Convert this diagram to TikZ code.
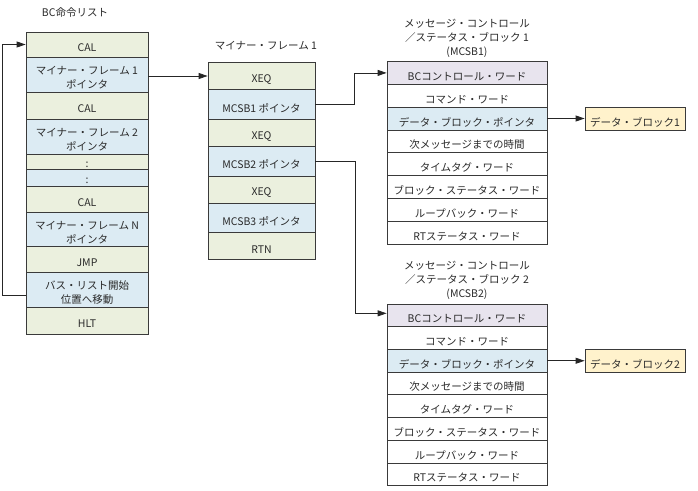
\documentclass[tikz,border=0pt]{standalone}
\usepackage{fontspec}
\setmainfont{Noto Sans CJK JP}
\usetikzlibrary{fit,arrows.meta}
\definecolor{cg}{HTML}{EBF0DE}
\definecolor{cb}{HTML}{DCEBF3}
\definecolor{cl}{HTML}{E8E4EE}
\definecolor{cy}{HTML}{FFF2CC}
\definecolor{bd}{HTML}{3A3A3A}
\definecolor{tx}{HTML}{2A2A2A}
\newcommand\myfont{\fontsize{10.5}{14}\selectfont}
\newcommand\cellbox[7]{\node[cellbase,#2,fit={(#3,#4)(#5,#6)},label={[ttl,yshift=-3.5pt]center:#7}] (#1) {};}
\tikzset{
  cellbase/.style={draw=bd, line width=0.8pt, inner sep=0pt},
  gr/.style={fill=cg}, bl/.style={fill=cb}, lv/.style={fill=cl}, wh/.style={fill=white}, yl/.style={fill=cy},
  ttl/.style={align=center, text=tx, font=\myfont, inner sep=0pt},
  conn/.style={draw=black!85, line width=0.8pt, -{Triangle[length=9pt,width=6pt]}}
}
\begin{document}
\begin{tikzpicture}[x=1pt,y=-1pt]
\useasboundingbox[fill=white] (0,0) rectangle (698,490);
% titles
\node[ttl] (t0) at (75,13) {BC命令リスト};
\node[ttl] (t1) at (266,46) {マイナー・フレーム 1};
\node[ttl] (t2) at (467,38.5) {メッセージ・コントロール\\／ステータス・ブロック 1\\(MCSB1)};
\node[ttl] (t3) at (467,280) {メッセージ・コントロール\\／ステータス・ブロック 2\\(MCSB2)};
% left column
\cellbox{L1}{gr}{26}{32}{148}{57}{CAL}
\cellbox{L2}{bl}{26}{57}{148}{92}{マイナー・フレーム 1\\ポインタ}
\cellbox{L3}{gr}{26}{92}{148}{119}{CAL}
\cellbox{L4}{bl}{26}{119}{148}{154}{マイナー・フレーム 2\\ポインタ}
\cellbox{L5}{gr}{26}{154}{148}{169}{:}
\cellbox{L6}{bl}{26}{169}{148}{186}{:}
\cellbox{L7}{gr}{26}{186}{148}{212}{CAL}
\cellbox{L8}{bl}{26}{212}{148}{246}{マイナー・フレーム N\\ポインタ}
\cellbox{L9}{gr}{26}{246}{148}{272}{JMP}
\cellbox{L10}{bl}{26}{272}{148}{307}{バス・リスト開始\\位置へ移動}
\cellbox{L11}{gr}{26}{307}{148}{334}{HLT}
% middle column
\cellbox{M1}{gr}{208}{62.5}{315}{89.5}{XEQ}
\cellbox{M2}{bl}{208}{89.5}{315}{119.5}{MCSB1 ポインタ}
\cellbox{M3}{gr}{208}{119.5}{315}{146}{XEQ}
\cellbox{M4}{bl}{208}{146}{315}{176}{MCSB2 ポインタ}
\cellbox{M5}{gr}{208}{176}{315}{203}{XEQ}
\cellbox{M6}{bl}{208}{203}{315}{232}{MCSB3 ポインタ}
\cellbox{M7}{gr}{208}{232}{315}{259.5}{RTN}
% right top
\cellbox{T1}{lv}{387}{61.5}{547}{84.3}{BCコントロール・ワード}
\cellbox{T2}{wh}{387}{84.3}{547}{107.1}{コマンド・ワード}
\cellbox{T3}{bl}{387}{107.1}{547}{129.9}{データ・ブロック・ポインタ}
\cellbox{T4}{wh}{387}{129.9}{547}{152.7}{次メッセージまでの時間}
\cellbox{T5}{wh}{387}{152.7}{547}{175.5}{タイムタグ・ワード}
\cellbox{T6}{wh}{387}{175.5}{547}{198.3}{ブロック・ステータス・ワード}
\cellbox{T7}{wh}{387}{198.3}{547}{221.1}{ループバック・ワード}
\cellbox{T8}{wh}{387}{221.1}{547}{243.9}{RTステータス・ワード}
% right bottom
\cellbox{B1}{lv}{387}{304}{547}{326.7}{BCコントロール・ワード}
\cellbox{B2}{wh}{387}{326.7}{547}{349.4}{コマンド・ワード}
\cellbox{B3}{bl}{387}{349.4}{547}{372.1}{データ・ブロック・ポインタ}
\cellbox{B4}{wh}{387}{372.1}{547}{394.8}{次メッセージまでの時間}
\cellbox{B5}{wh}{387}{394.8}{547}{417.5}{タイムタグ・ワード}
\cellbox{B6}{wh}{387}{417.5}{547}{440.2}{ブロック・ステータス・ワード}
\cellbox{B7}{wh}{387}{440.2}{547}{462.9}{ループバック・ワード}
\cellbox{B8}{wh}{387}{462.9}{547}{485.6}{RTステータス・ワード}
% data blocks
\cellbox{D1}{yl}{585}{107}{685}{130}{データ・ブロック1}
\cellbox{D2}{yl}{585}{349.5}{685}{372}{データ・ブロック2}
% connectors
\draw[conn] ([yshift=-5.5pt]L10.west) -- ++(-23,0) |- (L1.west);
\draw[conn] (L2.east |- M1.west) -- (M1.west);
\draw[conn] (M2.east) -- ++(39,0) |- (T1.west);
\draw[conn] (M4.east) -- ++(40,0) |- ([yshift=2pt]B1.west);
\draw[conn] (T3.east) -- (D1.west);
\draw[conn] (B3.east) -- (D2.west);
\end{tikzpicture}
\end{document}
